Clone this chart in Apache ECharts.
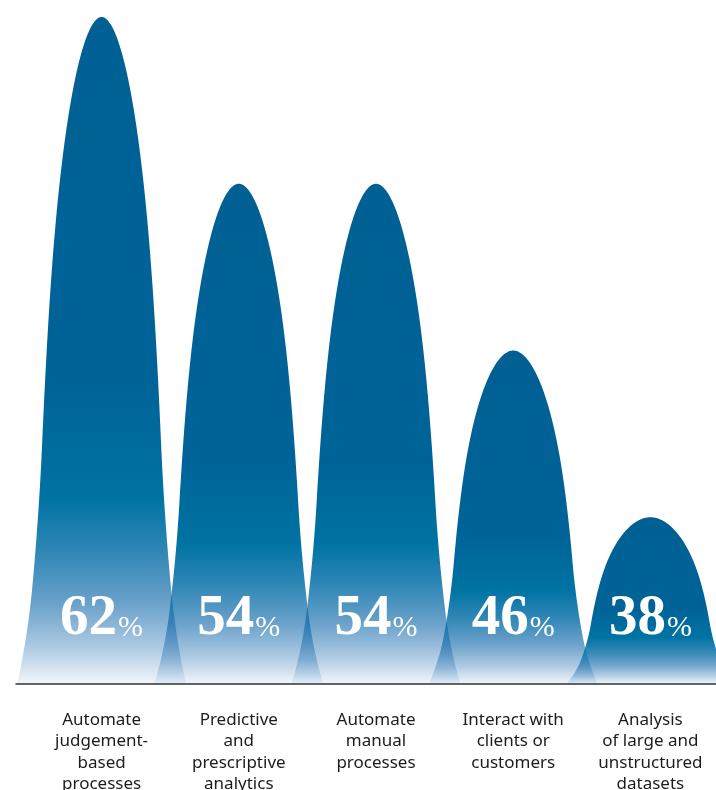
<!DOCTYPE html>
<html><head><meta charset="utf-8">
<script src="https://cdn.jsdelivr.net/npm/echarts@6/dist/echarts.min.js"></script>
<style>html,body{margin:0;padding:0;background:#fff}#c{width:716px;height:790px}</style>
</head><body><div id="c"></div>
<script>
const categories = [
  'Automate\njudgement-\nbased\nprocesses',
  'Predictive\nand\nprescriptive\nanalytics',
  'Automate\nmanual\nprocesses',
  'Interact with\nclients or\ncustomers',
  'Analysis\nof large and\nunstructured\ndatasets'
];
const values = [62, 54, 54, 46, 38];
const yMin = 30;
const yMax = 62;

// bell outline: knots in s = sqrt(depth) -> half-width, with tangents (cubic Hermite)
const knotS = [0, 0.55, 0.8, 0.92, 1];
const knotW = [0, 0.54, 0.705, 0.815, 1];
const knotT = [1.0, 0.8, 0.55, 1.3, 3.5];
function profFn(s) {
  let i = 0;
  while (i < knotS.length - 2 && s > knotS[i + 1]) i++;
  const h = knotS[i + 1] - knotS[i], u = (s - knotS[i]) / h;
  const h00 = 2 * u * u * u - 3 * u * u + 1, h10 = u * u * u - 2 * u * u + u;
  const h01 = -2 * u * u * u + 3 * u * u, h11 = u * u * u - u * u;
  return h00 * knotW[i] + h10 * h * knotT[i] + h01 * knotW[i + 1] + h11 * h * knotT[i + 1];
}
const STEPS = 100;
const outline = [];
for (let k = 0; k <= STEPS; k++) { const s = k / STEPS; outline.push([profFn(s), s * s]); }

const chart = echarts.init(document.getElementById('c'), null, {renderer: 'canvas'});

const fillGrad = {
  type: 'linear', x: 0, y: 0, x2: 0, y2: 1, global: false,
  colorStops: [
    {offset: 0, color: 'rgba(0,96,148,1)'},
    {offset: 0.55, color: 'rgba(0,99,152,1)'},
    {offset: 0.72, color: 'rgba(0,115,163,1)'},
    {offset: 0.80, color: 'rgba(0,108,165,0.82)'},
    {offset: 0.88, color: 'rgba(0,95,165,0.58)'},
    {offset: 0.95, color: 'rgba(0,90,165,0.3)'},
    {offset: 1, color: 'rgba(0,90,170,0.05)'}
  ]
};

function renderItem(params, api) {
  const idx = api.value(0);
  const v = api.value(1);
  const top = api.coord([idx, v]);
  const base = api.coord([idx, yMin]);
  const bandW = api.size([1, 0])[0];
  const hw = bandW * 0.615;
  const cx = top[0], ty = top[1], by = base[1], H = by - ty;
  const pts = [];
  for (let k = outline.length - 1; k >= 0; k--) pts.push([cx - outline[k][0] * hw, ty + outline[k][1] * H]);
  for (let k = 1; k < outline.length; k++) pts.push([cx + outline[k][0] * hw, ty + outline[k][1] * H]);
  return {
    type: 'group',
    children: [
      {type: 'polygon', shape: {points: pts}, style: {fill: fillGrad}},
      {
        type: 'text', z2: 10,
        style: {
          x: cx, y: by - 65,
          text: '{n|' + v + '}{p|%}',
          align: 'center', verticalAlign: 'middle',
          rich: {
            n: {fontFamily: 'Liberation Serif', fontWeight: 'bold', fontSize: 57, lineHeight: 57, verticalAlign: 'bottom', fill: '#fff'},
            p: {fontFamily: 'Liberation Serif', fontWeight: 'normal', fontSize: 30, lineHeight: 57, padding: [0, 0, 4, 1], verticalAlign: 'bottom', fill: '#fff'}
          }
        }
      }
    ]
  };
}

chart.setOption({
  animation: false,
  backgroundColor: '#fff',
  grid: [
    {left: 33, right: -3, top: 17, bottom: 106, outerBoundsMode: 'none', containLabel: false},
    {left: 16, right: 0, top: 17, bottom: 106, outerBoundsMode: 'none', containLabel: false}
  ],
  xAxis: [
    {
      type: 'category', gridIndex: 0, data: categories,
      axisLine: {show: false}, axisTick: {show: false},
      axisLabel: {interval: 0, margin: 25, fontFamily: 'Noto Sans', fontSize: 17, lineHeight: 21.5, color: '#1c1c1c', align: 'center'}
    },
    {
      type: 'value', gridIndex: 1, min: 0, max: 1,
      axisLine: {show: true, onZero: false, lineStyle: {color: '#333', width: 1.5}},
      axisTick: {show: false}, axisLabel: {show: false}, splitLine: {show: false}
    }
  ],
  yAxis: [
    {type: 'value', gridIndex: 0, min: yMin, max: yMax, show: false, splitLine: {show: false}},
    {type: 'value', gridIndex: 1, min: 0, max: 1, show: false, splitLine: {show: false}}
  ],
  series: [{
    type: 'custom',
    xAxisIndex: 0, yAxisIndex: 0,
    renderItem: renderItem,
    encode: {x: 0, y: 1},
    data: values.map((v, i) => [i, v]),
    z: 1
  }]
});
</script>
</body></html>
